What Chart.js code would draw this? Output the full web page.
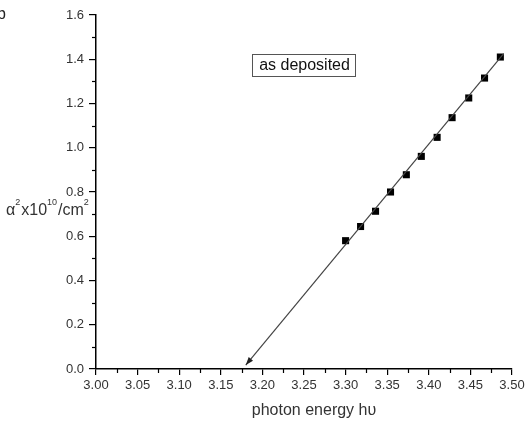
<!DOCTYPE html>
<html>
<head>
<meta charset="utf-8">
<script src="https://cdn.jsdelivr.net/npm/chart.js@4.4.0/dist/chart.umd.min.js"></script>
<style>
  html, body { margin: 0; padding: 0; background: #fff; }
  #wrap { width: 531px; height: 423px; position: relative; }
</style>
</head>
<body>
<div id="wrap"><canvas id="c" width="531" height="423"></canvas></div>
<script>
/* ---------- data ---------- */
const energy = [3.300, 3.318, 3.336, 3.354, 3.373, 3.391, 3.410, 3.428, 3.448, 3.467, 3.486];
const alphaSq = [0.580, 0.644, 0.713, 0.800, 0.878, 0.961, 1.047, 1.136, 1.225, 1.315, 1.410];
// fitted line, extrapolated down to the axis (arrow end first)
const fitX = [3.180, 3.490];
const fitY = [0.018, 1.425];
const xTicks = [3.00, 3.05, 3.10, 3.15, 3.20, 3.25, 3.30, 3.35, 3.40, 3.45, 3.50];
const yTicks = [0.0, 0.2, 0.4, 0.6, 0.8, 1.0, 1.2, 1.4, 1.6];

const FONT = "'Liberation Sans', Arial, sans-serif";
const TXT = '#333';

/* ---------- helpers ---------- */
const pts = (xs, ys) => xs.map((x, i) => ({ x: x, y: ys[i] }));

// minor ticks, arrow head and text that Chart.js has no slot for
const extras = {
  id: 'extras',
  afterDraw(chart) {
    const { ctx, scales: { x, y }, chartArea: a } = chart;
    ctx.save();
    ctx.strokeStyle = '#000';
    ctx.lineWidth = 1.2;
    // minor ticks
    for (let i = 0; i < xTicks.length - 1; i++) {
      const px = Math.round(x.getPixelForValue((xTicks[i] + xTicks[i + 1]) / 2)) + 0.5;
      ctx.beginPath(); ctx.moveTo(px, a.bottom); ctx.lineTo(px, a.bottom + 4); ctx.stroke();
    }
    for (let i = 0; i < yTicks.length - 1; i++) {
      const py = Math.round(y.getPixelForValue((yTicks[i] + yTicks[i + 1]) / 2)) + 0.5;
      ctx.beginPath(); ctx.moveTo(a.left, py); ctx.lineTo(a.left - 4, py); ctx.stroke();
    }

    // arrow head at the low end of the fit line
    const x0 = x.getPixelForValue(fitX[0]), y0 = y.getPixelForValue(fitY[0]);
    const x1 = x.getPixelForValue(fitX[1]), y1 = y.getPixelForValue(fitY[1]);
    const ang = Math.atan2(y0 - y1, x0 - x1);
    const L = 8, W = 2.8;
    ctx.fillStyle = '#222';
    ctx.beginPath();
    ctx.moveTo(x0, y0);
    ctx.lineTo(x0 - L * Math.cos(ang) + W * Math.sin(ang), y0 - L * Math.sin(ang) - W * Math.cos(ang));
    ctx.lineTo(x0 - L * Math.cos(ang) - W * Math.sin(ang), y0 - L * Math.sin(ang) + W * Math.cos(ang));
    ctx.closePath();
    ctx.fill();

    // legend-like box
    ctx.lineWidth = 1;
    ctx.strokeStyle = '#555';
    ctx.strokeRect(252.5, 54.5, 103, 22);
    ctx.fillStyle = '#111';
    ctx.font = '16px ' + FONT;
    ctx.textAlign = 'center';
    ctx.textBaseline = 'middle';
    ctx.fillText('as deposited', 304.5, 66);

    // x title
    ctx.fillStyle = TXT;
    ctx.font = '16px ' + FONT;
    ctx.textBaseline = 'alphabetic';
    ctx.fillText('photon energy h\u03C5', 314, 415);

    // y title: α²x10¹⁰/cm²
    ctx.textAlign = 'left';
    let cx = 6;
    const base = 215;
    const part = (s, size, dy) => {
      ctx.font = size + 'px ' + FONT;
      ctx.fillText(s, cx, base + dy);
      cx += ctx.measureText(s).width + (size < 12 ? 1 : 0);
    };
    part('\u03B1', 16, 0);
    part('2', 9, -10);
    part('x10', 16, 0);
    part('10', 9, -10);
    part('/cm', 16, 0);
    part('2', 9, -10);

    // panel letter
    ctx.font = '16px ' + FONT;
    ctx.fillStyle = '#222';
    ctx.fillText('b', -3, 19);
    ctx.restore();
  }
};

/* ---------- chart ---------- */
new Chart(document.getElementById('c'), {
  type: 'scatter',
  data: {
    datasets: [
      {
        label: 'fit',
        data: pts(fitX, fitY),
        showLine: true,
        borderColor: '#444',
        borderWidth: 1.2,
        pointRadius: 0,
        fill: false
      },
      {
        label: 'as deposited',
        data: pts(energy, alphaSq),
        pointStyle: 'rect',
        pointRadius: 5,
        backgroundColor: '#000',
        borderColor: '#000',
        borderWidth: 0
      }
    ]
  },
  options: {
    responsive: false,
    animation: false,
    layout: { padding: { top: 15, right: 19, left: 0, bottom: 0 } },
    plugins: { legend: { display: false }, tooltip: { enabled: false } },
    scales: {
      x: {
        type: 'linear',
        min: 3.0, max: 3.5,
        afterFit: s => { s.height = 54; },
        afterBuildTicks: s => { s.ticks = xTicks.map(v => ({ value: v })); },
        ticks: {
          callback: v => v.toFixed(2),
          color: TXT,
          font: { family: FONT, size: 13 },
          padding: 3,
          maxRotation: 0
        },
        grid: { drawOnChartArea: false, drawTicks: true, tickLength: 6, color: '#000', lineWidth: 1.2 },
        border: { display: true, color: '#000', width: 1.5 }
      },
      y: {
        type: 'linear',
        min: 0, max: 1.6,
        afterFit: s => { s.width = 96; },
        afterBuildTicks: s => { s.ticks = yTicks.map(v => ({ value: v })); },
        ticks: {
          callback: v => v.toFixed(1),
          color: TXT,
          font: { family: FONT, size: 13 },
          padding: 5
        },
        grid: { drawOnChartArea: false, drawTicks: true, tickLength: 7, color: '#000', lineWidth: 1.2 },
        border: { display: true, color: '#000', width: 1.5 }
      }
    }
  },
  plugins: [extras]
});
</script>
</body>
</html>
